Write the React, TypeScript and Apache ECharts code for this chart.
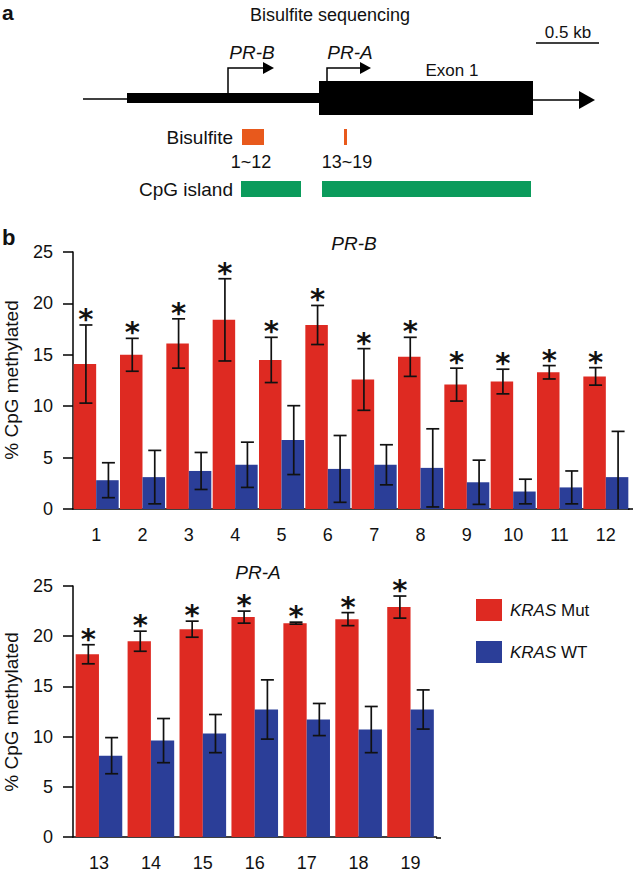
import React, { useEffect, useRef } from "react";
import * as echarts from "echarts";

const catsB = ["1", "2", "3", "4", "5", "6", "7", "8", "9", "10", "11", "12"];
const mutB = [14.1, 15.0, 16.1, 18.4, 14.5, 17.9, 12.6, 14.8, 12.1, 12.4, 13.3, 12.9];
const mutBErr = [3.8, 1.6, 2.4, 4.0, 2.2, 1.9, 3.0, 1.9, 1.6, 1.2, 0.65, 0.85];
const wtB = [2.8, 3.1, 3.7, 4.3, 6.7, 3.9, 4.3, 4.0, 2.6, 1.7, 2.1, 3.1];
const wtBErr = [1.7, 2.6, 1.8, 2.2, 3.35, 3.25, 1.95, 3.8, 2.15, 1.2, 1.6, 4.45];

const catsA = ["13", "14", "15", "16", "17", "18", "19"];
const mutA = [18.2, 19.5, 20.7, 21.9, 21.3, 21.7, 22.9];
const mutAErr = [0.95, 1.0, 0.8, 0.6, 0.1, 0.65, 1.1];
const wtA = [8.1, 9.6, 10.3, 12.7, 11.7, 10.7, 12.7];
const wtAErr = [1.8, 2.2, 1.9, 2.95, 1.6, 2.3, 1.95];

const yTicks = [0, 5, 10, 15, 20, 25];

const RED = "#de2a22";
const BLUE = "#2b3e98";
const ORANGE = "#e8591c";
const GREEN = "#0b9b5c";
const FONT = "Liberation Sans, Arial, Helvetica, sans-serif";

function makeErr(offset: number, star: boolean) {
  return (params: any, api: any) => {
    const i = api.value(0);
    const m = api.value(1);
    const e = api.value(2);
    const top = api.coord([i, m + e]);
    const lowV = m - e;
    const bot = api.coord([i, Math.max(0, lowV)]);
    const x = top[0] + offset + 1;
    const ls = { stroke: "#111", lineWidth: 1.7 };
    const children: any[] = [
      { type: "line", shape: { x1: x, y1: top[1], x2: x, y2: bot[1] }, style: ls },
      { type: "line", shape: { x1: x - 6.5, y1: top[1], x2: x + 6.5, y2: top[1] }, style: ls },
    ];
    if (lowV > 0.15) {
      children.push({ type: "line", shape: { x1: x - 6.5, y1: bot[1], x2: x + 6.5, y2: bot[1] }, style: ls });
    }
    if (star) {
      children.push({
        type: "text",
        x: x,
        y: top[1] - 6,
        style: {
          text: "*",
          fontSize: 29,
          fontWeight: "bold",
          fontFamily: "DejaVu Sans",
          fill: "#111",
          align: "center",
          verticalAlign: "middle",
        },
      });
    }
    return { type: "group", children };
  };
}

export default function App() {
  const ref = useRef<HTMLDivElement>(null);
  useEffect(() => {
    if (!ref.current) return;
    const chart = echarts.init(ref.current, null, { renderer: "svg" });

    const txt = (x: number, y: number, text: string, size: number, extra: any = {}) => ({
      type: "text",
      x,
      y,
      style: {
        text,
        fontSize: size,
        fontFamily: FONT,
        fill: "#111",
        align: "center",
        verticalAlign: "middle",
        ...extra,
      },
    });
    const ln = (x1: number, y1: number, x2: number, y2: number, w = 1.5) => ({
      type: "line",
      shape: { x1, y1, x2, y2 },
      style: { stroke: "#000", lineWidth: w },
    });

    const graphic: any[] = [
      txt(2, 12, "a", 21, { fontWeight: "bold", align: "left" }),
      txt(330, 15, "Bisulfite sequencing", 18),
      txt(568, 32, "0.5 kb", 17),
      ln(536, 43, 599, 43),
      ln(83, 99, 128, 99),
      { type: "rect", shape: { x: 127, y: 93, width: 194, height: 10 }, style: { fill: "#000" } },
      { type: "rect", shape: { x: 319, y: 81, width: 214, height: 34 }, style: { fill: "#000" } },
      ln(532, 100, 581, 100),
      { type: "polygon", shape: { points: [[579, 91], [595, 100], [579, 109]] }, style: { fill: "#000" } },
      { type: "polyline", shape: { points: [[228, 93], [228, 68], [265, 68]] }, style: { stroke: "#000", lineWidth: 1.5, fill: null } },
      { type: "polygon", shape: { points: [[263, 62], [274, 68], [263, 74]] }, style: { fill: "#000" } },
      { type: "polyline", shape: { points: [[327, 81], [327, 68], [362, 68]] }, style: { stroke: "#000", lineWidth: 1.5, fill: null } },
      { type: "polygon", shape: { points: [[360, 62], [371, 68], [360, 74]] }, style: { fill: "#000" } },
      txt(252, 52, "PR-B", 19, { fontStyle: "italic" }),
      txt(350, 52, "PR-A", 19, { fontStyle: "italic" }),
      txt(452, 70, "Exon 1", 17),
      txt(233, 137, "Bisulfite", 19, { align: "right" }),
      { type: "rect", shape: { x: 242, y: 129, width: 22, height: 16 }, style: { fill: ORANGE } },
      { type: "rect", shape: { x: 344, y: 129, width: 3, height: 16 }, style: { fill: ORANGE } },
      txt(251, 162, "1~12", 18),
      txt(347, 162, "13~19", 18),
      txt(233, 189, "CpG island", 19, { align: "right" }),
      { type: "rect", shape: { x: 241, y: 181, width: 60, height: 16 }, style: { fill: GREEN } },
      { type: "rect", shape: { x: 322, y: 181, width: 209, height: 16 }, style: { fill: GREEN } },
      txt(2, 237, "b", 22, { fontWeight: "bold", align: "left" }),
      txt(354, 243, "PR-B", 19, { fontStyle: "italic" }),
      txt(258, 572, "PR-A", 19, { fontStyle: "italic" }),
      { ...txt(11, 380, "% CpG methylated", 19), rotation: Math.PI / 2 },
      { ...txt(11, 712, "% CpG methylated", 19), rotation: Math.PI / 2 },
      ln(628, 509, 633, 509),
      ln(436, 838, 441, 838),
    ];

    const xAxisBase = (gridIndex: number, data: string[]) => ({
      type: "category",
      gridIndex,
      data,
      axisLine: { lineStyle: { color: "#000", width: 1.5 } },
      axisTick: { alignWithLabel: true, length: 9, lineStyle: { color: "#000", width: 1.5 } },
      axisLabel: { margin: 17, fontSize: 18, color: "#111", fontFamily: FONT },
    });
    const yAxisBase = (gridIndex: number) => ({
      type: "value",
      gridIndex,
      min: yTicks[0],
      max: yTicks[yTicks.length - 1],
      interval: 5,
      splitLine: { show: false },
      axisLine: { show: true, lineStyle: { color: "#000", width: 1.5 } },
      axisTick: { show: true, length: 10, lineStyle: { color: "#000", width: 1.5 } },
      axisLabel: { margin: 20, fontSize: 18, color: "#111", fontFamily: FONT },
    });

    const bwB = 22.5;
    const bwA = 23.3;

    chart.setOption({
      animation: false,
      backgroundColor: "#fff",
      graphic,
      legend: {
        data: ["KRAS Mut", "KRAS WT"],
        orient: "vertical",
        left: 471,
        top: 594,
        icon: "rect",
        itemWidth: 26,
        itemHeight: 22,
        itemGap: 20,
        selectedMode: false,
        formatter: (name: string) => (name === "KRAS Mut" ? "{i|KRAS} Mut" : "{i|KRAS} WT"),
        textStyle: {
          fontSize: 17,
          color: "#111",
          fontFamily: FONT,
          padding: [0, 0, 0, 3],
          rich: { i: { fontStyle: "italic", fontSize: 17, fontFamily: FONT, color: "#111" } },
        },
      },
      grid: [
        { left: 73, top: 252, width: 556, height: 257 },
        { left: 73, top: 586, width: 363.5, height: 252 },
      ],
      xAxis: [xAxisBase(0, catsB), xAxisBase(1, catsA)],
      yAxis: [yAxisBase(0), yAxisBase(1)],
      series: [
        { name: "KRAS Mut", type: "bar", xAxisIndex: 0, yAxisIndex: 0, data: mutB, barWidth: bwB, barGap: "0%", itemStyle: { color: RED } },
        { name: "KRAS WT", type: "bar", xAxisIndex: 0, yAxisIndex: 0, data: wtB, barWidth: bwB, barGap: "0%", itemStyle: { color: BLUE } },
        { name: "KRAS Mut", type: "bar", xAxisIndex: 1, yAxisIndex: 1, data: mutA, barWidth: bwA, barGap: "0%", itemStyle: { color: RED } },
        { name: "KRAS WT", type: "bar", xAxisIndex: 1, yAxisIndex: 1, data: wtA, barWidth: bwA, barGap: "0%", itemStyle: { color: BLUE } },
        {
          name: "errMutB", type: "custom", xAxisIndex: 0, yAxisIndex: 0, z: 5,
          renderItem: makeErr(-bwB / 2, true), encode: { x: 0, y: 1 },
          data: mutB.map((v, i) => [i, v, mutBErr[i]]),
        },
        {
          name: "errWtB", type: "custom", xAxisIndex: 0, yAxisIndex: 0, z: 5,
          renderItem: makeErr(bwB / 2, false), encode: { x: 0, y: 1 },
          data: wtB.map((v, i) => [i, v, wtBErr[i]]),
        },
        {
          name: "errMutA", type: "custom", xAxisIndex: 1, yAxisIndex: 1, z: 5,
          renderItem: makeErr(-bwA / 2, true), encode: { x: 0, y: 1 },
          data: mutA.map((v, i) => [i, v, mutAErr[i]]),
        },
        {
          name: "errWtA", type: "custom", xAxisIndex: 1, yAxisIndex: 1, z: 5,
          renderItem: makeErr(bwA / 2, false), encode: { x: 0, y: 1 },
          data: wtA.map((v, i) => [i, v, wtAErr[i]]),
        },
      ],
    });
    return () => chart.dispose();
  }, []);

  return (
    <div
      ref={ref}
      style={{ position: "fixed", left: 0, top: 0, width: 634, height: 872, background: "#fff" }}
    />
  );
}
